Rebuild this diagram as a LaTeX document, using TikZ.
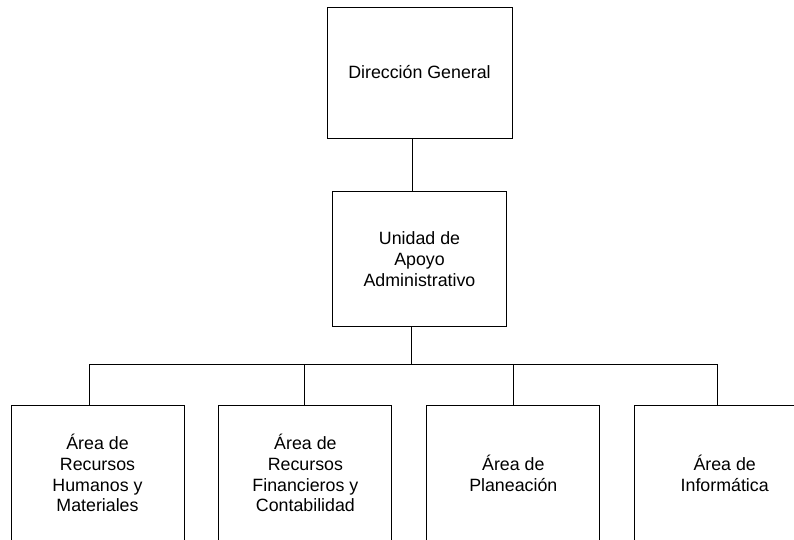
\documentclass[tikz,border=0pt]{standalone}
\usepackage{fontspec}
\setmainfont{Liberation Sans}
\usetikzlibrary{positioning}
\tikzstyle{Block} = [draw, rectangle, align=center, line width=0.9pt, font=\fontsize{17.8}{20.8}\selectfont]
\tikzstyle{Area} = [Block, minimum width=173pt, minimum height=136pt]
\tikzstyle{Line} = [line width=0.9pt]

\begin{document}
\begin{tikzpicture}[x=1pt, y=1pt]
    \useasboundingbox (0,0) rectangle (794,-539);
    \clip (0,0) rectangle (794,-539);
    \node[Block, minimum width=185pt, minimum height=131pt] (direccion) at (419.5,-72.5) {Dirección General};
    \node[Block, minimum width=174pt, minimum height=135pt] (unidad) [below=53pt of direccion] {Unidad de\\Apoyo\\Administrativo};
    \node[Area] (rhm) at (97.5,-473)              {Área de\\Recursos\\Humanos y\\Materiales};
    \node[Area] (rfc) [right=34pt of rhm]         {Área de\\Recursos\\Financieros y\\Contabilidad};
    \node[Area] (planeacion) [right=34pt of rfc]  {Área de\\Planeación};
    \node[Area, minimum width=180pt] (informatica) [right=34pt of planeacion] {Área de\\Informática};
    \draw[Line] ([xshift=-7pt]direccion.south) -- ([xshift=-7pt]direccion.south |- unidad.north);
    \draw[Line] ([xshift=-8pt]unidad.south) -- ++(0,-37.5) coordinate (bus);
    \draw[Line] (bus) -| ([xshift=-8.5pt]rhm.north);
    \draw[Line] (bus) -| ([xshift=-0.5pt]rfc.north);
    \draw[Line] (bus) -| (planeacion.north);
    \draw[Line] (bus) -| ([xshift=-7pt]informatica.north);
\end{tikzpicture}
\end{document}
